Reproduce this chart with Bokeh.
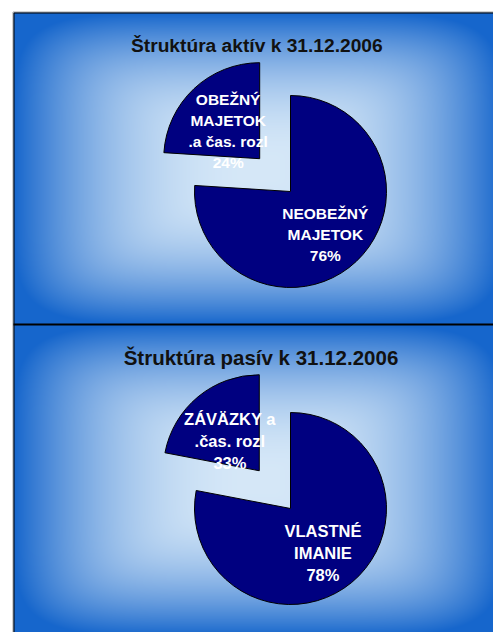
import numpy as np
from bokeh.plotting import figure
from bokeh.models import Range1d
from bokeh.embed import file_html
from bokeh.resources import INLINE
from bokeh.core.properties import value

# ---------------- data ----------------
titles = ["Štruktúra aktív  k 31.12.2006", "Štruktúra pasív k 31.12.2006"]

aktiva_names = [["NEOBEŽNÝ", "MAJETOK"], ["OBEŽNÝ", "MAJETOK", ".a čas. rozl"]]
aktiva_values = [76, 24]
aktiva_pct_labels = ["76%", "24%"]

pasiva_names = [["VLASTNÉ", "IMANIE"], ["ZÁVÄZKY a", ".čas. rozl"]]
pasiva_values = [78, 22]
pasiva_pct_labels = ["78%", "33%"]

# ---------------- layout / style ----------------
FONT = value("Liberation Sans")
PIE_FILL = "#000080"
EDGE = np.array([22, 102, 204], dtype=float)
CENTER = np.array([214, 232, 248], dtype=float)

p = figure(width=493, height=632, x_range=Range1d(0, 493), y_range=Range1d(-632, 0),
           output_backend="svg", toolbar_location=None,
           x_axis_location=None, y_axis_location=None, min_border=0)
p.grid.visible = False
p.outline_line_color = None
p.background_fill_color = "white"
p.border_fill_color = "white"


def gradient(x0, x1, y0, y1, cx, cy, hw, hh):
    xs = np.arange(x0, x1) + 0.5
    ys = np.arange(y0, y1) + 0.5
    X, Y = np.meshgrid(xs, ys)
    ax = np.abs(X - cx) / hw
    ay = np.abs(Y - cy) / hh
    t = np.clip((ax ** 6 + ay ** 6) ** (1 / 6), 0, 1)
    f = t ** 2.2
    h, w = X.shape
    img = np.empty((h, w), dtype=np.uint32)
    view = img.view(dtype=np.uint8).reshape((h, w, 4))
    for k in range(3):
        view[..., k] = (CENTER[k] * (1 - f) + EDGE[k] * f).astype(np.uint8)
    view[..., 3] = 255
    return img[::-1]


panels = [
    dict(y0=12, y1=324, cy=168, hh=156, title_y=45, title_size="19.2px", title_x=259,
         center=(290, 191), r=96, explode=45,
         names=aktiva_names, values=aktiva_values, pcts=aktiva_pct_labels,
         label_size="15.5px", spacing=21),
    dict(y0=324, y1=632, cy=480, hh=156, title_y=357, title_size="20.5px", title_x=260.5,
         center=(290, 508), r=96, explode=49,
         names=pasiva_names, values=pasiva_values, pcts=pasiva_pct_labels,
         label_size="16.5px", spacing=22),
]

for idx, pn in enumerate(panels):
    img = gradient(13, 493, pn["y0"], pn["y1"], 258, pn["cy"], 245, pn["hh"])
    p.image_rgba(image=[img], x=13, y=-pn["y1"], dw=480, dh=pn["y1"] - pn["y0"])

    # title
    p.text(x=[pn["title_x"]], y=[-pn["title_y"]], text=[titles[idx]],
           text_font=FONT, text_font_style="bold", text_font_size=pn["title_size"],
           text_color="#111111", text_align="center", text_baseline="alphabetic")

    # pie
    vals = np.array(pn["values"], dtype=float)
    fr = vals / vals.sum()
    cx, cy = pn["center"]
    cy = -cy
    big_start = np.pi / 2 - 2 * np.pi * fr[0]
    big_end = np.pi / 2
    small_start = np.pi / 2
    small_end = np.pi / 2 + 2 * np.pi * fr[1]
    small_mid = (small_start + small_end) / 2
    big_mid = (big_start + big_end) / 2
    sx = cx + pn["explode"] * np.cos(small_mid)
    sy = cy + pn["explode"] * np.sin(small_mid)

    p.wedge(x=[cx, sx], y=[cy, sy], radius=pn["r"],
            start_angle=[big_start, small_start], end_angle=[big_end, small_end],
            fill_color=PIE_FILL, line_color="black", line_width=1)

    # labels
    for (ox, oy, mid, frac), names, pct, cap in [
        ((cx, cy, big_mid, 0.53), pn["names"][0], pn["pcts"][0], 5.5),
        ((sx, sy, small_mid, 0.48), pn["names"][1], pn["pcts"][1], 5.5),
    ]:
        lx = ox + frac * pn["r"] * np.cos(mid)
        ly = oy + frac * pn["r"] * np.sin(mid)
        lines = names + [pct]
        n = len(lines)
        xs = [lx] * n
        ys = [ly - (i - (n - 1) / 2) * pn["spacing"] - cap for i in range(n)]
        p.text(x=xs, y=ys, text=lines, text_font=FONT, text_font_style="bold",
               text_font_size=pn["label_size"], text_color="white",
               text_align="center", text_baseline="alphabetic")

# panel borders
p.segment(x0=[12.5, 12.5], y0=[-11.5, -11.5], x1=[12.5, 493], y1=[-632, -11.5],
          line_color="#a0a0a0", line_width=1)
p.segment(x0=[13.5, 13.5], y0=[-12.5, -12.5], x1=[13.5, 493], y1=[-632, -12.5],
          line_color="black", line_width=1)
p.segment(x0=[13], y0=[-324], x1=[493], y1=[-324], line_color="black", line_width=2)

open("out.html", "w").write(file_html(p, INLINE))
